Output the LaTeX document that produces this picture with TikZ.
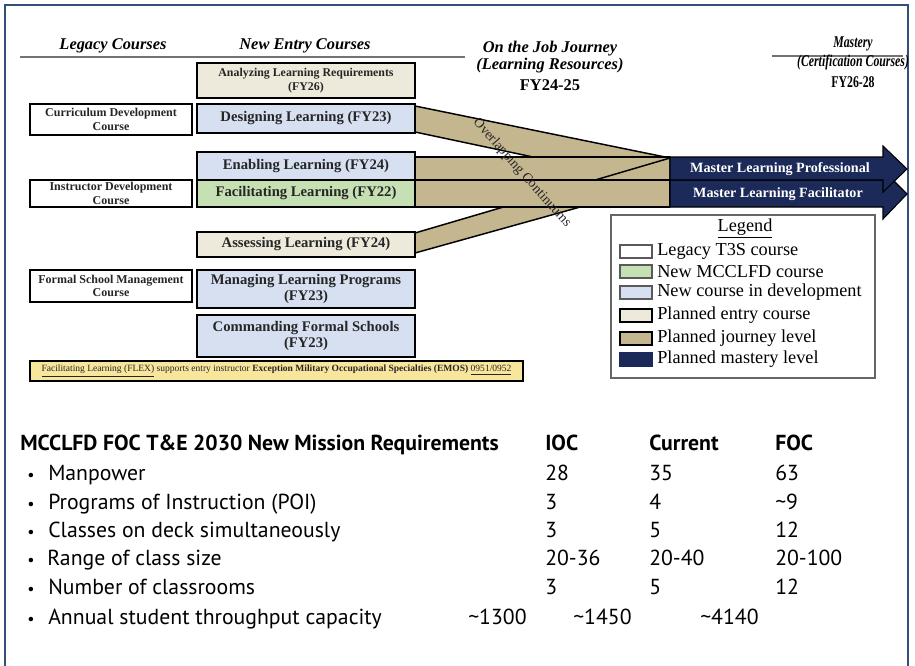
\documentclass[tikz,border=0pt]{standalone}
\usepackage{fontspec}
\usepackage{graphicx}
\setmainfont{Liberation Serif}
\newfontfamily\tablefont{PT Sans}
\definecolor{frameblue}{HTML}{34507A}
\definecolor{bandtan}{HTML}{C4B68F}
\definecolor{navy}{HTML}{1B2A58}
\definecolor{ltblue}{HTML}{D6E0F0}
\definecolor{ltgreen}{HTML}{C5E0B3}
\definecolor{ltbeige}{HTML}{EEEADB}
\definecolor{noteyellow}{HTML}{F8E69C}
\newcommand\fsz[2]{\fontsize{#1}{#2}\selectfont}
\newcommand\bul[1]{\makebox[#1][l]{\fsz{12}{12}•}}
\tikzset{
  boxsize/.style 2 args={minimum width={#1*0.75pt}, minimum height={#2*0.75pt}},
  course/.style={draw=black, line width=1.9pt, align=center, inner sep=0pt,
    font=\bfseries\fsz{11}{12.5}, text=black!85},
  legacy/.style={course, fill=white, font=\bfseries\fsz{9}{10}},
  band/.style={fill=bandtan, draw=black, line width=1.1pt, line join=round},
  mastery/.style={fill=navy, draw=black, line width=0.8pt, line join=miter},
  masttext/.style={text=white, font=\bfseries\fsz{10.6}{12}},
  colhead/.style={align=center, font=\bfseries\itshape\fsz{12.3}{13}},
  swatch/.style={boxsize={32}{13}, inner sep=0pt, draw=black!65, line width=0.9pt},
  swatchbold/.style={swatch, draw=black, line width=1.8pt},
  legtext/.style={anchor=west, inner sep=0pt, font=\fsz{13.7}{15}},
  tab/.style={anchor=base west, inner sep=0pt, font=\tablefont\fsz{16.3}{18}},
}
\begin{document}
\begin{tikzpicture}[x=0.75pt, y=-0.75pt]
\useasboundingbox (0,0) rectangle (915,665);
% outer frame
\draw[frameblue, line width=1.6pt] (5,668) -- (5,5) -- (908,5) -- (908,668);

% column headings and rules
\draw[black!55, line width=1.2pt] (20,57) -- (465,57);
\draw[black!55, line width=1.2pt] (772,56) -- (903,56);
\node[colhead] (hlegacy) at (113,46) {Legacy Courses};
\node[colhead] (hentry) at (305,46) {New Entry Courses};
\node[colhead] (hjob) at (550,66) {On the Job Journey\\(Learning Resources)\\[3pt]{\upshape FY24-25}};
\node[colhead] (hmast) at (853,64) {\scalebox{0.72}[1]{\begin{tabular}{@{}c@{}}Mastery\\[1pt](Certification Courses)\\[3pt]{\upshape FY26-28}\end{tabular}}};

% journey bands converging on the mastery arrows
\filldraw[band] (415,106) -- (670,158) -- (670,186) -- (415,132) -- cycle;
\filldraw[band] (415,157) rectangle (670,180);
\filldraw[band] (415,233) -- (670,158) -- (670,182) -- (415,253) -- cycle;
\filldraw[band] (415,180) rectangle (670,207);
\node[rotate=-48.4, font=\fsz{10.4}{12}, text=black!85, inner sep=0pt] (overlap) at (522,173) {Overlapping Continuums};

% mastery arrows
\filldraw[mastery] (670,180) -- (883,180) -- (883,170) -- (907,194) -- (883,219) -- (883,207) -- (670,207) -- cycle;
\filldraw[mastery] (670,157) -- (883,157) -- (883,146) -- (907,169) -- (883,192) -- (883,180) -- (670,180) -- cycle;
\node[masttext] (mlp) at (780,169) {Master Learning Professional};
\node[masttext] (mlf) at (778,194) {Master Learning Facilitator};

% legacy courses
\node[legacy, boxsize={162}{31}] (cdc) at (111,119.5) {Curriculum Development\\Course};
\node[legacy, boxsize={162}{27}] (idc) at (111,193.5) {Instructor Development\\Course};
\node[legacy, boxsize={162}{32}] (fsm) at (111,286) {Formal School Management\\Course};

% new entry courses
\node[course, fill=ltbeige, boxsize={218}{35}, font=\bfseries\fsz{8.9}{11}] (ana) at (306,80.5) {Analyzing Learning Requirements\\(FY26)};
\node[course, fill=ltblue, boxsize={218}{29}] (des) at (306,118.5) {Designing Learning (FY23)};
\node[course, fill=ltblue, boxsize={218}{28}] (ena) at (306,166) {Enabling Learning (FY24)};
\node[course, fill=ltgreen, boxsize={218}{27}] (fac) at (306,193.5) {Facilitating Learning (FY22)};
\node[course, fill=ltbeige, boxsize={218}{25}] (ass) at (306,244.5) {Assessing Learning (FY24)};
\node[course, fill=ltblue, boxsize={218}{38}] (mlpr) at (306,289) {Managing Learning Programs\\(FY23)};
\node[course, fill=ltblue, boxsize={218}{42}] (cfs) at (306,336) {Commanding Formal Schools\\(FY23)};

% note
\node[draw=black, line width=1pt, fill=noteyellow, boxsize={493}{20}, inner sep=0pt,
  font=\fsz{7.15}{9}, text=black!85] (note) at (276.5,371)
  {\underline{Facilitating Learning (FLEX)} supports entry instructor \textbf{Exception Military Occupational Specialties (EMOS)} \underline{0951/0952}};

% legend
\node[draw=black!60, line width=1.1pt, boxsize={264}{163}, inner sep=0pt] (legend) at (743,296.5) {};
\node[font=\fsz{13.7}{15}, inner sep=0pt] (legtitle) at (745,228) {\underline{Legend}};
\node[swatch, fill=white] (s1) at (636,251.5) {};
\node[swatch, fill=ltgreen] (s2) at (636,271.5) {};
\node[swatch, fill=ltblue] (s3) at (636,292.5) {};
\node[swatchbold, fill=ltbeige] (s4) at (636,315.5) {};
\node[swatchbold, fill=bandtan] (s5) at (636,338.5) {};
\node[swatch, fill=navy, draw=navy] (s6) at (636,359.5) {};
\node[legtext] (l1) at (657,251.5) {Legacy T3S course};
\node[legtext] (l2) at (657,271.5) {New MCCLFD course};
\node[legtext] (l3) at (657,292.5) {New course in development};
\node[legtext] (l4) at (657,315.5) {Planned entry course};
\node[legtext] (l5) at (657,338.5) {Planned journey level};
\node[legtext] (l6) at (657,359.5) {Planned mastery level};

% requirements table
\node[tab] (title) at (20,450) {\bfseries MCCLFD FOC T\&E 2030 New Mission Requirements};
\node[tab] (cioc) at (545,450) {\bfseries IOC};
\node[tab] (ccur) at (649,450) {\bfseries Current};
\node[tab] (cfoc) at (775,450) {\bfseries FOC};

\node[tab] (r1) at (27,480) {\bul{15.75pt}Manpower};
\node[tab] (r2) at (27,509) {\bul{15.75pt}Programs of Instruction (POI)};
\node[tab] (r3) at (27,537) {\bul{15.75pt}Classes on deck simultaneously};
\node[tab] (r4) at (27,565) {\bul{15pt}Range of class size};
\node[tab] (r5) at (27,594) {\bul{15.75pt}Number of classrooms};
\node[tab] (r6) at (27,624) {\bul{15.75pt}Annual student throughput capacity};

\node[tab] (v1a) at (545,480) {28};
\node[tab] (v1b) at (649,480) {35};
\node[tab] (v1c) at (775,480) {63};
\node[tab] (v2a) at (545,509) {3};
\node[tab] (v2b) at (649,509) {4};
\node[tab] (v2c) at (775,509) {\textasciitilde 9};
\node[tab] (v3a) at (545,537) {3};
\node[tab] (v3b) at (649,537) {5};
\node[tab] (v3c) at (775,537) {12};
\node[tab] (v4a) at (545,565) {20-36};
\node[tab] (v4b) at (649,565) {20-40};
\node[tab] (v4c) at (775,565) {20-100};
\node[tab] (v5a) at (545,594) {3};
\node[tab] (v5b) at (649,594) {5};
\node[tab] (v5c) at (775,594) {12};
\node[tab] (v6a) at (468,624) {\textasciitilde 1300};
\node[tab] (v6b) at (573,624) {\textasciitilde 1450};
\node[tab] (v6c) at (700,624) {\textasciitilde 4140};
\end{tikzpicture}
\end{document}
